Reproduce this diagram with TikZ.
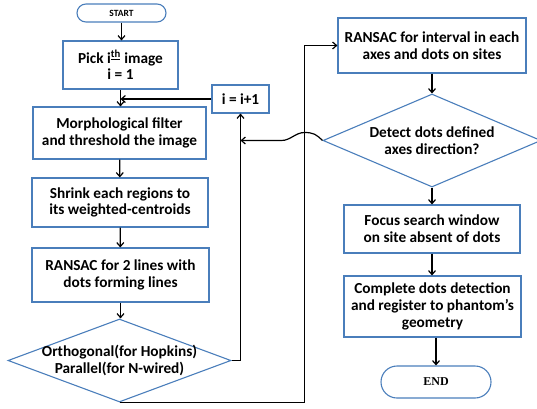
\documentclass[tikz,border=0pt]{standalone}
\usepackage{fontspec}
\setmainfont{Carlito}
\newfontfamily\endfont{Liberation Serif}
\usetikzlibrary{shapes.geometric,arrows.meta,calc}
\definecolor{boxblue}{HTML}{4A7EBB}
\newcommand\flowfont{\fontsize{15.3}{16.7}\selectfont\bfseries}

\begin{document}
\begin{tikzpicture}[x=1pt,y=-1pt,
  box/.style={draw=boxblue,line width=1.1pt,align=center,font=\flowfont,inner sep=0pt},
  term/.style={draw=boxblue,line width=1.1pt,rounded corners=#1,inner sep=0pt},
  decision/.style={draw=boxblue,line width=1.1pt,diamond,inner sep=0pt},
  flow/.style={line width=1.2pt,-{Straight Barb[length=4pt,width=7pt]}}]
\useasboundingbox (0,0) rectangle (537,408);
\clip (0,0) rectangle (537,408);

% 左列
\node[term=9pt,minimum width=89pt,minimum height=18pt,font=\fontsize{9.5}{10}\selectfont\bfseries] (start) at (121.5,13) {START};
\node[box,minimum width=115pt,minimum height=48pt] (pick) at (120.5,65) {Pick i\textsuperscript{\underline{th}} image\\ i = 1};
\node[box,minimum width=57pt,minimum height=28pt] (inc) at (240.5,99) {i = i+1};
\node[box,minimum width=173pt,minimum height=52pt] (morph) at (119.5,133) {Morphological filter\\ and threshold the image};
\node[box,minimum width=176pt,minimum height=49pt] (shrink) at (120,202.5) {Shrink each regions to\\ its weighted-centroids};
\node[box,minimum width=177pt,minimum height=54pt] (lines) at (120.5,275) {RANSAC for 2 lines with\\ dots forming lines};
\node[decision,minimum width=223pt,minimum height=83pt,
  label={[font=\flowfont,align=center]center:{Orthogonal(for Hopkins)\\ Parallel(for N-wired)}}] (ortho) at (119.5,360.5) {};

% 右列
\node[box,minimum width=188pt,minimum height=55pt] (interval) at (432,45.5) {RANSAC for interval in each\\ axes and dots on sites};
\node[decision,minimum width=218pt,minimum height=93pt,
  label={[font=\flowfont,align=center]center:{Detect dots defined\\ axes direction?}}] (detect) at (432,140.5) {};
\node[box,minimum width=176pt,minimum height=48pt] (focus) at (432,229) {Focus search window\\ on site absent of dots};
\node[box,minimum width=177pt,minimum height=61pt] (complete) at (432.5,306.5) {Complete dots detection\\ and register to phantom’s\\ geometry};
\node[term=16pt,minimum width=110pt,minimum height=32pt,font=\endfont\fontsize{12}{13}\selectfont\bfseries] (end) at (436,382) {END};

% 连线
\coordinate (merge) at (pick.south |- inc.west);
\coordinate (bend) at ($(interval.west)+(-33,0)$);
\coordinate (join) at (inc.south |- detect.west);
\coordinate (hop) at ($(bend |- detect.west)+(0,-8)$);
\coordinate (hopL) at ($(detect.west)+(-41,0)$);

\draw[flow] (start.south) -- (start.south |- pick.north);
\draw[flow] (pick.south) -- (pick.south |- morph.north);
\draw[flow] (inc.west) -- (merge);
\draw[flow] (morph) -- (shrink);
\draw[flow] (shrink) -- (lines);
\draw[flow] (lines.south) -- (lines.south |- ortho.north);
\draw[flow] (ortho.east) -| (inc.south);
\draw[flow] (ortho.south) -| (bend) -- (interval.west);
\draw[flow] (interval) -- (detect);
\draw[flow] (detect.west) .. controls +(-6,-6) and +(9,0) .. (hop)
  .. controls +(-9,0) and +(9,0) .. (hopL) -- (join);
\draw[flow] (detect) -- (focus);
\draw[flow] (focus.south) -- (focus.south |- complete.north);
\draw[flow] (end.north |- complete.south) -- (end.north);
\end{tikzpicture}
\end{document}
